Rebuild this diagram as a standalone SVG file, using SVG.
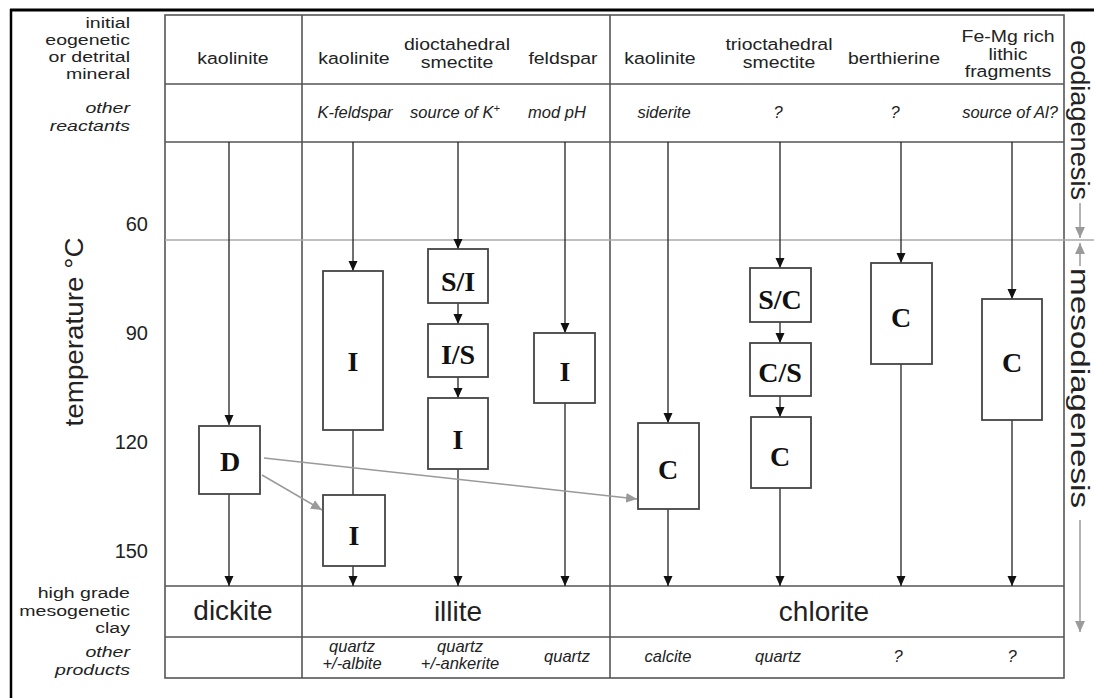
<svg xmlns="http://www.w3.org/2000/svg" width="1094" height="698" viewBox="0 0 1094 698">
<defs>
<marker id="ah" viewBox="0 0 10 10" refX="10" refY="5" markerWidth="10" markerHeight="10" markerUnits="userSpaceOnUse" orient="auto"><path d="M0,0.5 L10,5 L0,9.5 z" fill="#111"/></marker>
<marker id="ahg" viewBox="0 0 10 10" refX="10" refY="5" markerWidth="11" markerHeight="11" markerUnits="userSpaceOnUse" orient="auto"><path d="M0,0.5 L10,5 L0,9.5 z" fill="#9a9a9a"/></marker>
<style>
.t{font-family:"Liberation Sans",Arial,sans-serif;fill:#222}
.h{font-size:16.5px}
.l{font-size:15.5px}
.it{font-size:16.5px;font-style:italic}
.big{font-size:28px}
.num{font-size:20px}
.grid{stroke:#555;stroke-width:1.6;fill:none}
.box{fill:#fff;stroke:#444;stroke-width:1.8}
.lbl{font-family:"Liberation Serif","Times New Roman",serif;font-weight:bold;font-size:28px;fill:#111;text-anchor:middle}
.arr{stroke:#222;stroke-width:1.3;fill:none;marker-end:url(#ah)}
.ln{stroke:#222;stroke-width:1.3;fill:none}
.garr{stroke:#9a9a9a;stroke-width:1.5;fill:none;marker-end:url(#ahg)}
</style>
</defs>
<rect x="0" y="0" width="1094" height="698" fill="#fff"/>
<g id="frame">
<line x1="10" y1="10" x2="1094" y2="10" stroke="#000" stroke-width="3"/>
<line x1="11" y1="9" x2="11" y2="698" stroke="#000" stroke-width="2.5"/>
</g>
<g id="grid" class="grid">
<rect x="165" y="15" width="899" height="663"/>
<line x1="165" y1="84" x2="1064" y2="84"/>
<line x1="165" y1="142" x2="1064" y2="142"/>
<line x1="165" y1="586" x2="1064" y2="586"/>
<line x1="165" y1="637" x2="1064" y2="637"/>
<line x1="302" y1="15" x2="302" y2="678"/>
<line x1="610" y1="15" x2="610" y2="678"/>
<line x1="165" y1="240" x2="1094" y2="240" stroke="#aaa" stroke-width="1.6"/>
</g>
<g id="left-labels" class="t l" text-anchor="end" transform="matrix(1.26,0,0,1,-33.8,0)">
<text x="130" y="28">initial</text>
<text x="130" y="45">eogenetic</text>
<text x="130" y="62">or detrital</text>
<text x="130" y="79">mineral</text>
<text x="130" y="113" font-style="italic">other</text>
<text x="130" y="131" font-style="italic">reactants</text>
<text x="130" y="598">high grade</text>
<text x="130" y="616">mesogenetic</text>
<text x="130" y="633">clay</text>
<text x="130" y="657" font-style="italic">other</text>
<text x="130" y="675" font-style="italic">products</text>
</g>
<g id="temp-ticks" class="t num" text-anchor="end">
<text x="148" y="231">60</text>
<text x="148" y="340">90</text>
<text x="148" y="449">120</text>
<text x="148" y="558">150</text>
</g>
<text class="t" font-size="26" text-anchor="middle" textLength="189" lengthAdjust="spacingAndGlyphs" transform="translate(83,332) rotate(-90)">temperature °C</text>
<g id="headers" class="t h" text-anchor="middle">
<text x="233" y="64" transform="matrix(1.18,0,0,1,-41.94,0)">kaolinite</text>
<text x="354" y="64" transform="matrix(1.18,0,0,1,-63.72,0)">kaolinite</text>
<text x="457" y="50" transform="matrix(1.18,0,0,1,-82.26,0)">dioctahedral</text>
<text x="457" y="68" transform="matrix(1.18,0,0,1,-82.26,0)">smectite</text>
<text x="563" y="64" transform="matrix(1.18,0,0,1,-101.34,0)">feldspar</text>
<text x="660" y="64" transform="matrix(1.18,0,0,1,-118.8,0)">kaolinite</text>
<text x="779" y="50" transform="matrix(1.18,0,0,1,-140.22,0)">trioctahedral</text>
<text x="779" y="68" transform="matrix(1.18,0,0,1,-140.22,0)">smectite</text>
<text x="894" y="64" transform="matrix(1.18,0,0,1,-160.92,0)">berthierine</text>
<text x="1008" y="42" transform="matrix(1.18,0,0,1,-181.44,0)">Fe-Mg rich</text>
<text x="1008" y="60" transform="matrix(1.18,0,0,1,-181.44,0)">lithic</text>
<text x="1008" y="77" transform="matrix(1.18,0,0,1,-181.44,0)">fragments</text>
</g>
<g id="reactants" class="t it" text-anchor="middle">
<text x="355" y="118">K-feldspar</text>
<text x="455" y="118">source of K<tspan font-size="11" dy="-6">+</tspan></text>
<text x="557" y="118">mod pH</text>
<text x="664" y="118">siderite</text>
<text x="778" y="118">?</text>
<text x="895" y="118">?</text>
<text x="1010" y="118">source of Al?</text>
</g>
<g id="products-main" class="t big" text-anchor="middle">
<text x="233" y="620">dickite</text>
<text x="458" y="621">illite</text>
<text x="824" y="621">chlorite</text>
</g>
<g id="products-other" class="t it" text-anchor="middle">
<text x="352" y="652">quartz</text>
<text x="352" y="669">+/-albite</text>
<text x="460" y="652">quartz</text>
<text x="460" y="669">+/-ankerite</text>
<text x="567" y="662">quartz</text>
<text x="668" y="662">calcite</text>
<text x="778" y="662">quartz</text>
<text x="898" y="662">?</text>
<text x="1012" y="662">?</text>
</g>
<g id="stages">
<text class="t" font-size="25" textLength="160" lengthAdjust="spacingAndGlyphs" transform="translate(1071,40) rotate(90)">eodiagenesis</text>
<text class="t" font-size="25" textLength="240" lengthAdjust="spacingAndGlyphs" transform="translate(1071,268) rotate(90)">mesodiagenesis</text>
<line x1="1080" y1="203" x2="1080" y2="238" stroke="#9a9a9a" stroke-width="1.5" marker-end="url(#ahg)"/>
<line x1="1080" y1="266" x2="1080" y2="243" stroke="#9a9a9a" stroke-width="1.5" marker-end="url(#ahg)"/>
<line x1="1080" y1="520" x2="1080" y2="632" stroke="#9a9a9a" stroke-width="1.5" marker-end="url(#ahg)"/>
</g>
<g id="connectors">
<line class="arr" x1="229" y1="142" x2="229" y2="425"/>
<line class="arr" x1="229" y1="494" x2="229" y2="586"/>
<line class="arr" x1="353" y1="142" x2="353" y2="271"/>
<line class="ln" x1="353" y1="430" x2="353" y2="495"/>
<line class="arr" x1="353" y1="566" x2="353" y2="586"/>
<line class="arr" x1="458" y1="142" x2="458" y2="249"/>
<line class="arr" x1="458" y1="303" x2="458" y2="324"/>
<line class="arr" x1="458" y1="377" x2="458" y2="398"/>
<line class="arr" x1="458" y1="469" x2="458" y2="586"/>
<line class="arr" x1="565" y1="142" x2="565" y2="333"/>
<line class="arr" x1="565" y1="403" x2="565" y2="586"/>
<line class="arr" x1="668" y1="142" x2="668" y2="423"/>
<line class="arr" x1="668" y1="509" x2="668" y2="586"/>
<line class="arr" x1="780" y1="142" x2="780" y2="268"/>
<line class="arr" x1="780" y1="322" x2="780" y2="343"/>
<line class="arr" x1="780" y1="396" x2="780" y2="417"/>
<line class="arr" x1="780" y1="488" x2="780" y2="586"/>
<line class="arr" x1="901" y1="142" x2="901" y2="263"/>
<line class="arr" x1="901" y1="364" x2="901" y2="586"/>
<line class="arr" x1="1012" y1="142" x2="1012" y2="299"/>
<line class="arr" x1="1012" y1="420" x2="1012" y2="586"/>
<line class="garr" x1="262" y1="475" x2="322" y2="510"/>
<line class="garr" x1="264" y1="458" x2="637" y2="499"/>
</g>
<g id="node-D"><rect class="box" x="199" y="426" width="61" height="68"/><text class="lbl" x="230" y="471">D</text></g>
<g id="node-I-kaol"><rect class="box" x="323" y="271" width="60" height="159"/><text class="lbl" x="353" y="371">I</text></g>
<g id="node-I-low"><rect class="box" x="323" y="495" width="62" height="71"/><text class="lbl" x="354" y="545">I</text></g>
<g id="node-SI"><rect class="box" x="428" y="249" width="60" height="54"/><text class="lbl" x="458" y="291">S/I</text></g>
<g id="node-IS"><rect class="box" x="428" y="324" width="60" height="53"/><text class="lbl" x="458" y="364">I/S</text></g>
<g id="node-I-smec"><rect class="box" x="428" y="398" width="60" height="71"/><text class="lbl" x="458" y="449">I</text></g>
<g id="node-I-feld"><rect class="box" x="534" y="333" width="61" height="70"/><text class="lbl" x="565" y="381">I</text></g>
<g id="node-C-kaol"><rect class="box" x="638" y="423" width="61" height="86"/><text class="lbl" x="668" y="479">C</text></g>
<g id="node-SC"><rect class="box" x="750" y="268" width="61" height="54"/><text class="lbl" x="780" y="309">S/C</text></g>
<g id="node-CS"><rect class="box" x="750" y="343" width="61" height="53"/><text class="lbl" x="780" y="382">C/S</text></g>
<g id="node-C-tri"><rect class="box" x="751" y="417" width="60" height="71"/><text class="lbl" x="780" y="466">C</text></g>
<g id="node-C-berth"><rect class="box" x="871" y="263" width="61" height="101"/><text class="lbl" x="901" y="327">C</text></g>
<g id="node-C-femg"><rect class="box" x="982" y="299" width="60" height="121"/><text class="lbl" x="1012" y="372">C</text></g>
</svg>
